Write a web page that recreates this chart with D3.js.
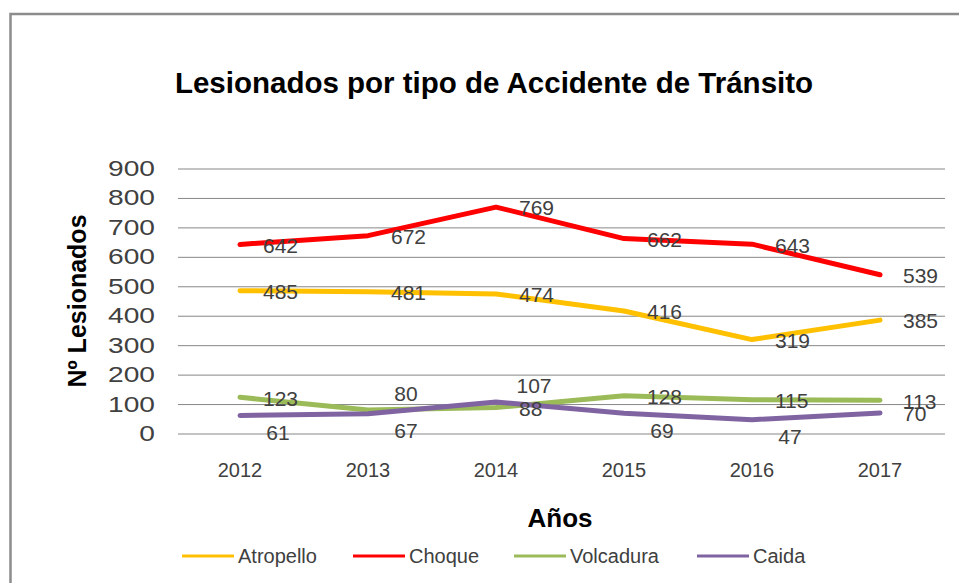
<!doctype html>
<html lang="es">
<head>
  <meta charset="utf-8">
  <title>Lesionados por tipo de Accidente de Tránsito</title>
  <script src="https://cdnjs.cloudflare.com/ajax/libs/d3/7.8.5/d3.min.js"></script>
  <style>
    body { margin: 0; background: #fff; }
    text { font-family: "Liberation Sans", Arial, sans-serif; }
  </style>
</head>
<body>
<svg width="959" height="583" id="svg"></svg>
<script>
  // data
  var years = ['2012', '2013', '2014', '2015', '2016', '2017'];
  var yTicks = [0, 100, 200, 300, 400, 500, 600, 700, 800, 900];
  var seriesNames = ['Atropello', 'Choque', 'Volcadura', 'Caida'];
  var atropello = [485, 481, 474, 416, 319, 385];
  var choque = [642, 672, 769, 662, 643, 539];
  var volcadura = [123, 80, 88, 128, 115, 113];
  var caida = [61, 67, 107, 69, 47, 70];

  // styling / label placement (r = right, a = above, b = below)
  var colors = ['#FFC000', '#FF0000', '#9BBB59', '#8064A2'];
  var labelPlace = [
    ['r', 'r', 'r', 'r', 'r', 'r'],
    ['r', 'r', 'r', 'r', 'r', 'r'],
    ['r', 'a', 'r', 'r', 'r', 'r'],
    ['b', 'b', 'a', 'b', 'b', 'r']
  ];

  var series = [atropello, choque, volcadura, caida].map(function(v, i) {
    return { name: seriesNames[i], values: v, color: colors[i], place: labelPlace[i] };
  });

  var svg = d3.select('#svg');

  // outer frame
  svg.append('rect')
    .attr('x', 10.5).attr('y', 14)
    .attr('width', 980).attr('height', 600)
    .attr('fill', 'none')
    .attr('stroke', '#8c8c8c')
    .attr('stroke-width', 2.5);

  var plotLeft = 178, plotRight = 945, plotTop = 168.5, plotBottom = 433.5;

  var x = d3.scaleBand().domain(years).range([176, 944]);
  var y = d3.scaleLinear().domain([0, 900]).range([plotBottom, plotTop]);
  var cx = function(d) { return x(d) + x.bandwidth() / 2; };

  // title
  svg.append('text')
    .attr('x', 494).attr('y', 93)
    .attr('text-anchor', 'middle')
    .attr('font-size', 29.5).attr('font-weight', 'bold')
    .attr('fill', '#000')
    .text('Lesionados por tipo de Accidente de Tránsito');

  // y axis with gridlines
  var ya = svg.append('g')
    .attr('transform', 'translate(' + plotLeft + ',0)')
    .call(d3.axisLeft(y).tickValues(yTicks).tickSize(-(plotRight - plotLeft)).tickPadding(18));
  ya.select('.domain').remove();
  ya.selectAll('.tick line').attr('stroke', '#878787').attr('stroke-width', 1);
  ya.selectAll('.tick text')
    .attr('font-size', 22)
    .attr('fill', '#404040')
    .attr('font-family', '"Liberation Sans", Arial, sans-serif')
    .attr('transform', 'scale(1.28,1)');

  // x axis labels
  var xa = svg.append('g')
    .attr('transform', 'translate(0,' + plotBottom + ')')
    .call(d3.axisBottom(x).tickSize(0).tickPadding(29));
  xa.select('.domain').remove();
  xa.selectAll('.tick text')
    .attr('font-size', 20)
    .attr('fill', '#404040')
    .attr('font-family', '"Liberation Sans", Arial, sans-serif');

  // axis titles
  svg.append('text')
    .attr('x', 560).attr('y', 527)
    .attr('text-anchor', 'middle')
    .attr('font-size', 26).attr('font-weight', 'bold')
    .text('Años');

  svg.append('text')
    .attr('transform', 'translate(86,301) rotate(-90)')
    .attr('text-anchor', 'middle')
    .attr('font-size', 25).attr('font-weight', 'bold')
    .text('Nº Lesionados');

  // lines
  var line = d3.line()
    .x(function(d, i) { return cx(years[i]); })
    .y(function(d) { return y(d); });

  svg.selectAll('.serie')
    .data(series)
    .enter()
    .append('path')
    .attr('class', 'serie')
    .attr('d', function(d) { return line(d.values); })
    .attr('fill', 'none')
    .attr('stroke', function(d) { return d.color; })
    .attr('stroke-width', 5)
    .attr('stroke-linejoin', 'round')
    .attr('stroke-linecap', 'round');

  // data labels
  series.forEach(function(s) {
    svg.selectAll(null)
      .data(s.values)
      .enter()
      .append('text')
      .attr('x', function(d, i) {
        return cx(years[i]) + (s.place[i] === 'r' ? 23 : 38);
      })
      .attr('y', function(d, i) {
        var p = s.place[i];
        return y(d) + (p === 'a' ? -16 : p === 'b' ? 17 : 1);
      })
      .attr('dy', '0.35em')
      .attr('text-anchor', function(d, i) { return s.place[i] === 'r' ? 'start' : 'middle'; })
      .attr('font-size', 21)
      .attr('fill', '#404040')
      .text(function(d) { return d; });
  });

  // legend
  var legendX = [182, 353, 514, 697];
  var lg = svg.selectAll('.legend')
    .data(series)
    .enter()
    .append('g')
    .attr('class', 'legend')
    .attr('transform', function(d, i) { return 'translate(' + legendX[i] + ',556)'; });
  lg.append('line')
    .attr('x1', 0).attr('x2', 52)
    .attr('stroke', function(d) { return d.color; })
    .attr('stroke-width', 3);
  lg.append('text')
    .attr('x', 56)
    .attr('dy', '0.35em')
    .attr('font-size', 20)
    .attr('fill', '#404040')
    .text(function(d) { return d.name; });
</script>
</body>
</html>
